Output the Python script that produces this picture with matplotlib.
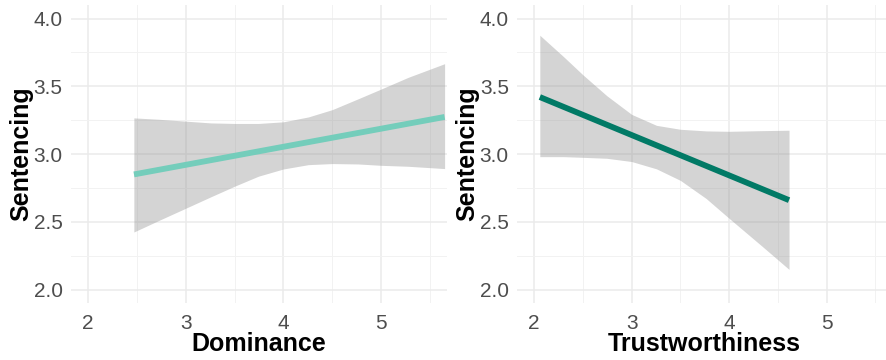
import matplotlib
matplotlib.use("Agg")
import matplotlib.pyplot as plt
from matplotlib.ticker import MultipleLocator

plt.rcParams['font.family'] = ['Liberation Sans', 'DejaVu Sans']

# data
dom_fit_x = [2.47, 5.65]
dom_fit_y = [2.85, 3.274]
dom_band_x = [2.469, 2.724, 2.999, 3.255, 3.507, 3.745, 3.999, 4.255, 4.50, 4.765, 5.0, 5.276, 5.65]
dom_band_hi = [3.267, 3.257, 3.243, 3.23, 3.226, 3.226, 3.238, 3.274, 3.328, 3.408, 3.48, 3.566, 3.667]
dom_band_lo = [2.425, 2.51, 2.60, 2.684, 2.765, 2.837, 2.89, 2.922, 2.93, 2.927, 2.917, 2.91, 2.893]

tru_fit_x = [2.058, 4.615]
tru_fit_y = [3.421, 2.66]
tru_band_x = [2.058, 2.303, 2.5, 2.745, 3.0, 3.255, 3.5, 3.765, 4.0, 4.34, 4.615]
tru_band_hi = [3.877, 3.718, 3.585, 3.431, 3.293, 3.212, 3.183, 3.171, 3.168, 3.173, 3.176]
tru_band_lo = [2.981, 2.981, 2.976, 2.969, 2.945, 2.891, 2.806, 2.672, 2.526, 2.319, 2.149]

panels = [
    ("Dominance", dom_fit_x, dom_fit_y, dom_band_x, dom_band_hi, dom_band_lo, "#74cdbb"),
    ("Trustworthiness", tru_fit_x, tru_fit_y, tru_band_x, tru_band_hi, tru_band_lo, "#017a66"),
]

fig = plt.figure(figsize=(8.87, 3.6), dpi=100)
rects = [[0.080, 0.158, 0.424, 0.828], [0.583, 0.158, 0.423, 0.828]]

for rect, (xlab, fx, fy, bx, bhi, blo, col) in zip(rects, panels):
    ax = fig.add_axes(rect)
    ax.fill_between(bx, blo, bhi, color="#999999", alpha=0.42, linewidth=0, zorder=2)
    ax.plot(fx, fy, color=col, linewidth=4.2, solid_capstyle="butt", zorder=3)
    ax.set_xlim(1.825, 5.675)
    ax.set_ylim(1.9, 4.1)
    ax.xaxis.set_major_locator(MultipleLocator(1))
    ax.xaxis.set_minor_locator(MultipleLocator(0.5))
    ax.yaxis.set_major_locator(MultipleLocator(0.5))
    ax.yaxis.set_minor_locator(MultipleLocator(0.25))
    ax.set_yticks([2.0, 2.5, 3.0, 3.5, 4.0])
    ax.set_yticklabels(["2.0", "2.5", "3.0", "3.5", "4.0"])
    ax.grid(which="major", color="#ebebeb", linewidth=1.1, zorder=0)
    ax.grid(which="minor", color="#f2f2f2", linewidth=0.7, zorder=0)
    ax.set_axisbelow(True)
    for s in ax.spines.values():
        s.set_visible(False)
    ax.tick_params(which="both", length=0, labelsize=15, labelcolor="#4d4d4d")
    ax.tick_params(axis="x", pad=8)
    ax.tick_params(axis="y", pad=6)
    ax.set_xlabel(xlab, fontsize=18, fontweight="bold", labelpad=-1)
    ax.set_ylabel("Sentencing", fontsize=18, fontweight="bold", labelpad=0)

fig.savefig("out.png", dpi=100)
